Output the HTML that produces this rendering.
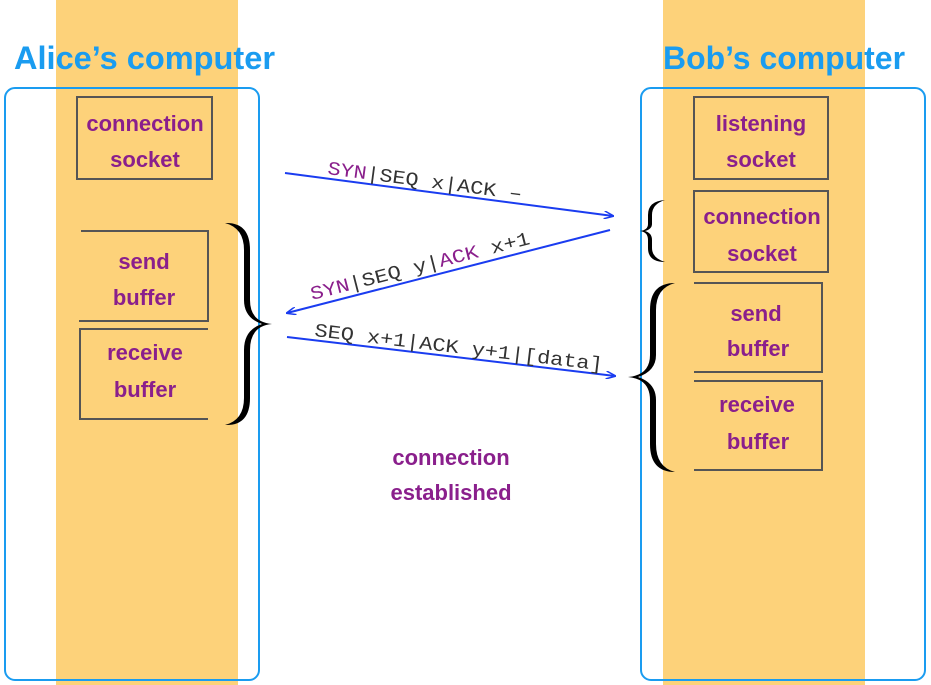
<!DOCTYPE html>
<html><head><meta charset="utf-8"><style>
html,body{margin:0;padding:0;background:#fff;}
svg{display:block;}
.t{font-family:"Liberation Sans",sans-serif;font-size:22px;font-weight:bold;fill:#8a1f8c;text-anchor:middle;}
.h{font-family:"Liberation Sans",sans-serif;font-size:32px;font-weight:bold;fill:#1a9cf0;}
.m{font-family:"Liberation Mono",monospace;font-size:19px;fill:#333;}
.p{fill:#8a1f8c;}
</style></head><body>
<svg width="931" height="685" viewBox="0 0 931 685" xmlns="http://www.w3.org/2000/svg">
<defs><marker id="a" markerWidth="10" markerHeight="8" refX="9" refY="4" orient="auto" markerUnits="userSpaceOnUse"><path d="M0,0 L10,4 L0,8" fill="none" stroke="#1a3cf0" stroke-width="1.5"/></marker></defs>
<rect x="56" y="0" width="182" height="685" fill="#fdd27a"/>
<rect x="663" y="0" width="202" height="685" fill="#fdd27a"/>
<text class="h" x="14" y="69" textLength="261" lengthAdjust="spacingAndGlyphs">Alice’s computer</text>
<text class="h" x="663" y="69" textLength="242" lengthAdjust="spacingAndGlyphs">Bob’s computer</text>
<rect x="5" y="88" width="254" height="592" rx="10" fill="none" stroke="#1a9cf0" stroke-width="2"/>
<rect x="641" y="88" width="284" height="592" rx="10" fill="none" stroke="#1a9cf0" stroke-width="2"/>
<g fill="none" stroke="#555" stroke-width="2">
<rect x="77" y="97" width="135" height="82"/>
<path d="M81,231 H208 V321 H79"/>
<path d="M208,329 H80 V419 H208"/>
<rect x="694" y="97" width="134" height="82"/>
<rect x="694" y="191" width="134" height="81"/>
<path d="M694,283 H822 V372 H694"/>
<path d="M694,381 H822 V470 H694"/>
</g>
<text class="t" x="145" y="131">connection</text><text class="t" x="145" y="167">socket</text>
<text class="t" x="144" y="269">send</text><text class="t" x="144" y="305">buffer</text>
<text class="t" x="145" y="360">receive</text><text class="t" x="145" y="397">buffer</text>
<text class="t" x="761" y="131">listening</text><text class="t" x="761" y="167">socket</text>
<text class="t" x="762" y="224">connection</text><text class="t" x="762" y="261">socket</text>
<text class="t" x="756" y="321">send</text><text class="t" x="758" y="356">buffer</text>
<text class="t" x="757" y="412">receive</text><text class="t" x="758" y="449">buffer</text>
<text class="t" x="451" y="465">connection</text><text class="t" x="451" y="500">established</text>
<g fill="#000">
<path d="M225,223 Q250,222 250,250 L250,300 Q250,322 272,324 Q250,326 250,350 L250,398 Q250,426 225,425 Q244,420 244,398 L244,350 Q244,330 262,324 Q244,318 244,300 L244,250 Q244,228 225,223Z"/>
<path d="M665,200 Q648,201 648,215 L648,224 Q648,230 640,231 Q648,232 648,240 L648,248 Q648,262 665,262 Q652,258 652,248 L652,240 Q652,233 645,231 Q652,229 652,224 L652,215 Q652,204 665,200Z"/>
<path d="M675,283 Q650,283 650,310 L650,355 Q650,375 628,377 Q650,379 650,400 L650,444 Q650,472 675,472 Q656,467 656,444 L656,400 Q656,383 638,377 Q656,371 656,355 L656,310 Q656,288 675,283Z"/>
</g>
<g stroke="#1a3cf0" stroke-width="2" marker-end="url(#a)">
<line x1="285" y1="173" x2="613" y2="216"/>
<line x1="610" y1="230" x2="287" y2="313"/>
<line x1="287" y1="337" x2="615" y2="376"/>
</g>
<text class="m" transform="translate(327,174) rotate(7.5)" textLength="196" lengthAdjust="spacingAndGlyphs"><tspan class="p">SYN</tspan>|SEQ x|ACK –</text>
<text class="m" transform="translate(312,300) rotate(-14.4)" textLength="226" lengthAdjust="spacingAndGlyphs"><tspan class="p">SYN</tspan>|SEQ y|<tspan class="p">ACK</tspan> x+1</text>
<text class="m" transform="translate(314,336) rotate(6.8)" textLength="290" lengthAdjust="spacingAndGlyphs">SEQ x+1|ACK y+1|[data]</text>
</svg>
</body></html>
